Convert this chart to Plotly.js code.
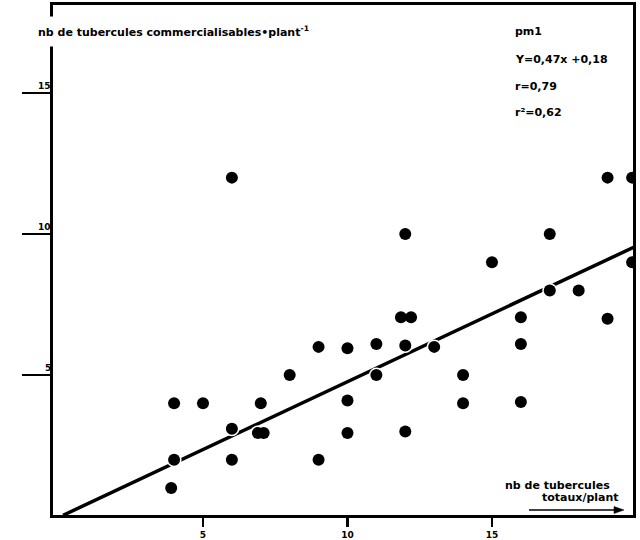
<!DOCTYPE html>
<html><head><meta charset="utf-8">
<script src="https://cdn.plot.ly/plotly-3.0.1.min.js"></script>
<style>html,body{margin:0;padding:0;background:#fff}</style>
</head><body><div id="chart" style="width:640px;height:540px"></div>
<script>
// nb de tubercules totaux / plant
const tubTotaux = [3.9, 4, 4, 5, 6, 6, 6, 7, 6.9, 7.1,
                   8, 9, 9, 10, 10, 10, 11, 11, 12, 12,
                   12, 11.85, 12.2, 13, 19, 19.85, 17, 15, 19.85, 17,
                   18, 16, 19, 16, 14, 14, 16];
// nb de tubercules commercialisables / plant
const tubCommerc = [1, 2, 4, 4, 3.1, 2, 12, 4, 2.95, 2.95,
                    5, 2, 6, 5.95, 4.1, 2.95, 6.1, 5, 6.05, 3,
                    10, 7.05, 7.05, 6, 12, 12, 10, 9, 9, 8,
                    8, 7.05, 7, 6.1, 5, 4, 4.05];
// regression line end points
const lineX = [0.16, 19.9];
const lineY = [0.03, 9.53];
const xTickVals = [5, 10, 15];
const xTickText = ['5', '10', '15'];
const yTickVals = [5, 10, 15];
const yTickText = ['5', '10', '15'];
const statsLines = ['pm1', 'Y=0,47x +0,18', 'r=0,79', 'r\u00b2=0,62'];
const yTitle = 'nb de tubercules commercialisables\u2022plant<sup>-1</sup>';
const xTitle1 = 'nb de tubercules';
const xTitle2 = 'totaux/plant';

const FONT = 'DejaVu Sans, sans-serif';
const W = 640, H = 540, ML = 53, MR = 7, MT = 5, MB = 25;
const PW = W - ML - MR, PH = H - MT - MB;
const py = p => (H - MB - p) / PH;   // pixel row -> paper y
const px = p => (p - ML) / PW;       // pixel col -> paper x

const traces = [
  {x: lineX, y: lineY, mode: 'lines', line: {color: '#000', width: 3.5}, hoverinfo: 'skip', showlegend: false},
  {x: tubTotaux, y: tubCommerc, mode: 'markers', marker: {color: '#fff', size: 15}, hoverinfo: 'skip', showlegend: false},
  {x: tubTotaux, y: tubCommerc, mode: 'markers', marker: {color: '#000', size: 12}, showlegend: false}
];

const annotations = [];
// y-axis title (white background breaks the left axis line, as in the scan)
annotations.push({xref: 'paper', yref: 'paper', x: px(30), y: py(31), xanchor: 'left', yanchor: 'middle',
  text: '<b>' + yTitle + '</b>', showarrow: false, bgcolor: '#fff', borderpad: 7,
  font: {family: FONT, size: 11, color: '#000'}});
// stats block
const statRows = [31, 60, 86, 112];
statsLines.forEach((t, i) => annotations.push({xref: 'paper', yref: 'paper', x: px(513), y: py(statRows[i]),
  xanchor: 'left', yanchor: 'middle', text: '<b>' + t + '</b>', showarrow: false,
  font: {family: FONT, size: 11, color: '#000'}}));
// y tick labels placed above the tick marks, next to the axis
yTickVals.forEach((v, i) => annotations.push({xref: 'paper', yref: 'y', x: 0, y: v, xanchor: 'right', yanchor: 'bottom',
  xshift: 0, yshift: 0, text: '<b>' + yTickText[i] + '</b>', showarrow: false,
  font: {family: FONT, size: 9, color: '#000'}}));
// x-axis title
annotations.push({xref: 'paper', yref: 'paper', x: px(612), y: py(485), xanchor: 'right', yanchor: 'middle',
  text: '<b>' + xTitle1 + '</b>', showarrow: false, font: {family: FONT, size: 11, color: '#000'}});
annotations.push({xref: 'paper', yref: 'paper', x: px(621), y: py(497), xanchor: 'right', yanchor: 'middle',
  text: '<b>' + xTitle2 + '</b>', showarrow: false, font: {family: FONT, size: 11, color: '#000'}});

// arrow under the x title, drawn as shapes
const shapes = [
  {type: 'line', xref: 'paper', yref: 'paper', x0: px(529), x1: px(617), y0: py(510), y1: py(510),
   line: {color: '#000', width: 1.6}},
  {type: 'path', xref: 'paper', yref: 'paper',
   path: `M ${px(624)} ${py(510)} L ${px(614)} ${py(506.5)} L ${px(614)} ${py(513.5)} Z`,
   fillcolor: '#000', line: {color: '#000', width: 0.5}}
];

const layout = {
  width: W, height: H,
  margin: {l: ML, r: MR, t: MT, b: MB, pad: 0},
  paper_bgcolor: '#fff', plot_bgcolor: '#fff',
  showlegend: false,
  xaxis: {range: [-0.19, 19.88], showgrid: false, zeroline: false,
    showline: true, mirror: true, linecolor: '#000', linewidth: 3,
    tickmode: 'array', tickvals: xTickVals, ticktext: xTickText.map(t => '<b>' + t + '</b>'),
    ticks: 'outside', ticklen: 9, tickwidth: 2.5, tickcolor: '#000', ticklabelstandoff: 0,
    tickfont: {family: FONT, size: 9, color: '#000'}},
  yaxis: {range: [0.04, 18.12], showgrid: false, zeroline: false,
    showline: true, mirror: true, linecolor: '#000', linewidth: 3,
    tickmode: 'array', tickvals: yTickVals, showticklabels: false,
    ticks: 'outside', ticklen: 28, tickwidth: 2.5, tickcolor: '#000'},
  annotations: annotations,
  shapes: shapes
};

Plotly.newPlot('chart', traces, layout, {displayModeBar: false, staticPlot: true});
</script></body></html>
